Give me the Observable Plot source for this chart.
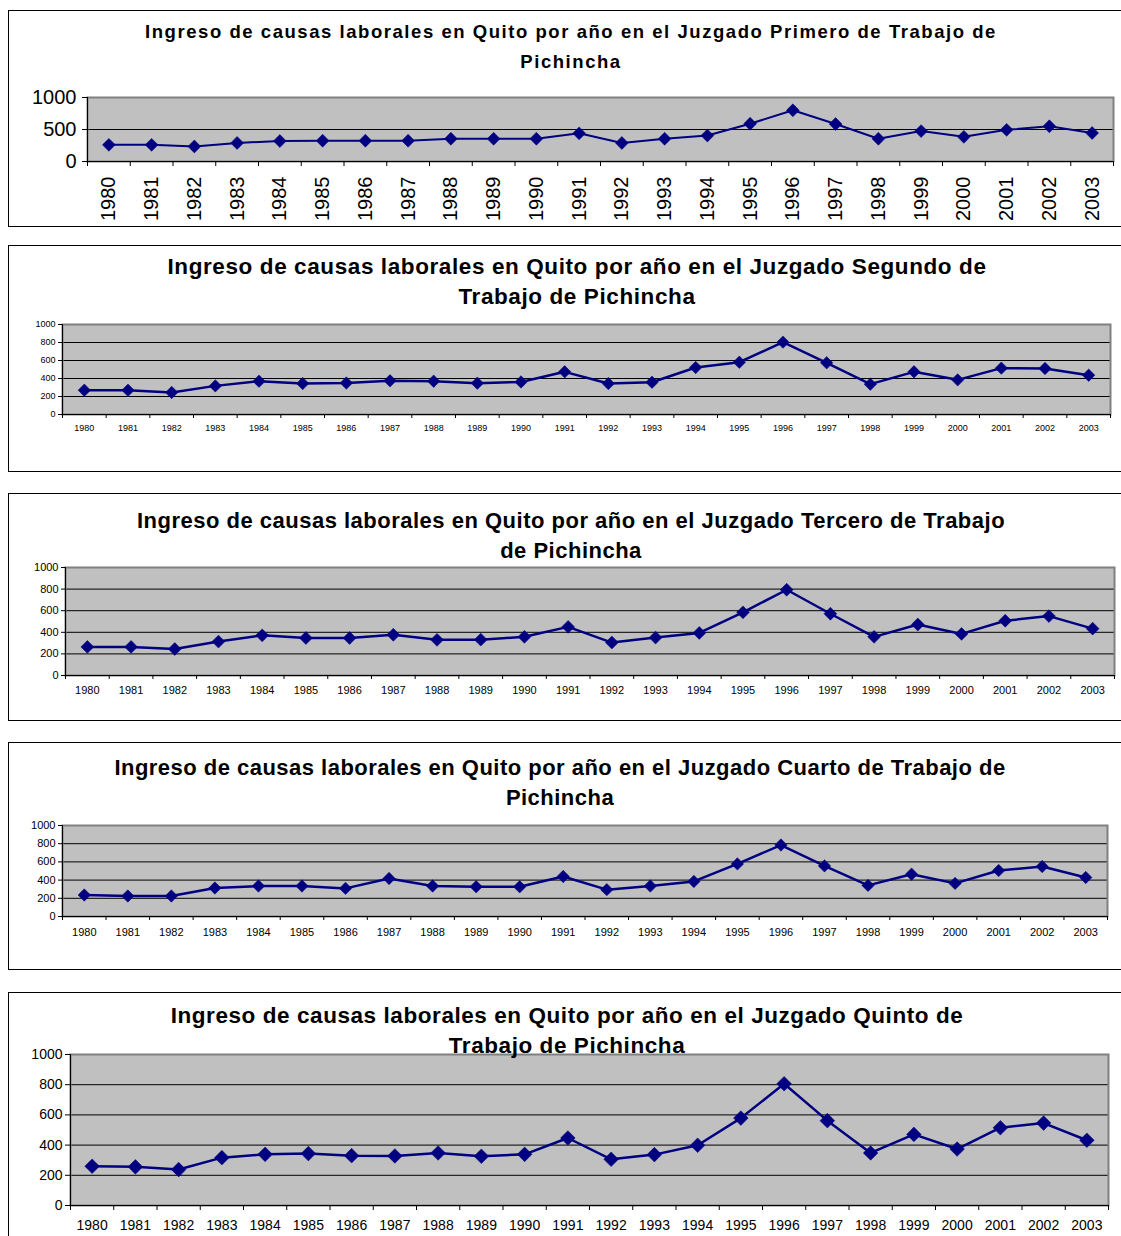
<!DOCTYPE html>
<html>
<head>
<meta charset="utf-8">
<script src="https://cdn.jsdelivr.net/npm/d3@7"></script>
<script src="https://cdn.jsdelivr.net/npm/@observablehq/plot@0.6"></script>
<style>
  html, body { margin: 0; padding: 0; background: #fff; }
  body { width: 1121px; height: 1236px; overflow: hidden; position: relative; font-family: "Liberation Sans", Arial, sans-serif; }
  .panel { position: absolute; left: 8px; width: 1130px; border: 1px solid #000; box-sizing: border-box; }
  .chart { position: absolute; left: 0; }
  .title { position: absolute; width: 1200px; text-align: center; font-weight: bold; color: #000; white-space: nowrap; z-index: 2; }
</style>
</head>
<body>
<div id="root"></div>
<script>
const years = [1980,1981,1982,1983,1984,1985,1986,1987,1988,1989,1990,1991,1992,1993,1994,1995,1996,1997,1998,1999,2000,2001,2002,2003];

const primero = [260,260,235,290,320,325,325,325,355,355,355,440,290,355,405,590,800,585,355,475,385,495,550,445];
const segundo = [270,270,245,318,370,344,350,374,370,348,362,474,344,358,522,581,804,574,337,474,385,515,511,437];
const tercero = [265,265,245,314,372,347,347,377,330,332,358,450,305,351,394,585,794,572,358,472,385,507,550,434];
const cuarto  = [236,225,225,313,335,335,309,418,335,327,327,440,295,335,385,578,785,556,342,465,364,505,549,429];
const quinto  = [260,256,238,317,339,344,330,328,348,326,339,447,306,337,399,579,806,562,348,471,374,515,546,432];

const titles = [
  ["Ingreso de causas laborales en Quito por año en el Juzgado Primero de Trabajo de", "Pichincha"],
  ["Ingreso de causas laborales en Quito por año en el Juzgado Segundo de", "Trabajo de Pichincha"],
  ["Ingreso de causas laborales en Quito por año en el Juzgado Tercero de Trabajo", "de Pichincha"],
  ["Ingreso de causas laborales en Quito por año en el Juzgado Cuarto de Trabajo de", "Pichincha"],
  ["Ingreso de causas laborales en Quito por año en el Juzgado Quinto de", "Trabajo de Pichincha"]
];
const yTicksCoarse = [0, 500, 1000];
const yTicksFine = [0, 200, 400, 600, 800, 1000];

const series = [primero, segundo, tercero, cuarto, quinto];

// layout (page pixel coordinates)
const layout = [
  {top:10,  bottom:227, fl:87, fr:1113, ft:97,   fb:161,  tick:20, rot:-90, xPad:15, yPad:6, tsize:5, title:{cx:571, y1:32, fs:18.5, ls:1.55}, sw:2,   r:5.8, yt:yTicksCoarse},
  {top:245, bottom:472, fl:62, fr:1110, ft:324,  fb:414,  tick:9,  rot:0,   xPad:10, yPad:3, tsize:4, title:{cx:577, y1:267, fs:22.5, ls:0.6}, sw:2.5, r:5.6, yt:yTicksFine},
  {top:493, bottom:721, fl:65, fr:1114, ft:567,  fb:675,  tick:11, rot:0,   xPad:11, yPad:3, tsize:4, title:{cx:571, y1:521, fs:22, ls:0.5}, sw:2.5, r:5.8, yt:yTicksFine},
  {top:742, bottom:970, fl:62, fr:1107, ft:825,  fb:916,  tick:11, rot:0,   xPad:12, yPad:3, tsize:4, title:{cx:560, y1:768, fs:22, ls:0.48}, sw:2.5, r:5.6, yt:yTicksFine},
  {top:992, bottom:1240,fl:70, fr:1108, ft:1054, fb:1205, tick:14, rot:0,   xPad:15, yPad:3, tsize:5, title:{cx:567, y1:1016, fs:22.5, ls:0.57}, sw:2.5, r:6.6, yt:yTicksFine}
];

const bounds = [...years.map(y => y - 0.5), years[years.length - 1] + 0.5];

layout.forEach((L, k) => {
  const panel = document.createElement("div");
  panel.className = "panel";
  panel.style.top = L.top + "px";
  panel.style.height = (L.bottom - L.top) + "px";
  document.body.appendChild(panel);

  const data = years.map((y, i) => ({year: y, value: series[k][i]}));
  const grid = L.yt.filter(v => v > 0 && v < 1000);
  const H = L.bottom - L.top;
  const svg = Plot.plot({
    width: 1121,
    height: H,
    marginLeft: L.fl,
    marginRight: 1121 - L.fr,
    marginTop: L.ft - L.top,
    marginBottom: L.bottom - L.fb,
    style: {fontFamily: '"Liberation Sans", Arial, sans-serif', fontSize: L.tick + "px", color: "#000", background: "transparent", overflow: "visible"},
    x: {type: "linear", domain: [1979.5, 2003.5]},
    y: {domain: [0, 1000]},
    marks: [
      Plot.frame({fill: "#c0c0c0", stroke: null}),
      Plot.ruleY(grid, {stroke: "#000", strokeWidth: 1}),
      Plot.frame({stroke: "#808080", strokeWidth: 2}),
      Plot.ruleX([1979.5], {stroke: "#000", strokeWidth: 1}),
      Plot.ruleY([0], {stroke: "#000", strokeWidth: 1}),
      Plot.axisY({ticks: L.yt, tickSize: L.tsize, tickPadding: L.yPad, tickFormat: d => String(d), label: null, fontSize: L.tick}),
      Plot.axisX({ticks: bounds, tickSize: L.tsize, tickFormat: () => "", label: null}),
      Plot.axisX({ticks: years, tickSize: 0, tickPadding: L.xPad, tickFormat: d => String(d), tickRotate: L.rot, label: null, fontSize: L.tick}),
      Plot.line(data, {x: "year", y: "value", stroke: "#000080", strokeWidth: L.sw}),
      Plot.dot(data, {x: "year", y: "value", symbol: "diamond2", fill: "#000080", stroke: "#000080", strokeWidth: 0.5, r: L.r})
    ]
  });
  svg.classList.add("chart");
  svg.style.top = L.top + "px";
  document.body.appendChild(svg);

  const t = L.title;
  const lh = 29.5;
  const title = document.createElement("div");
  title.className = "title";
  title.style.left = (t.cx - 600) + "px";
  title.style.top = (t.y1 - lh / 2) + "px";
  title.style.fontSize = t.fs + "px";
  title.style.lineHeight = lh + "px";
  title.style.letterSpacing = t.ls + "px";
  title.innerHTML = titles[k][0] + "<br>" + titles[k][1];
  document.body.appendChild(title);
});
</script>
</body>
</html>
